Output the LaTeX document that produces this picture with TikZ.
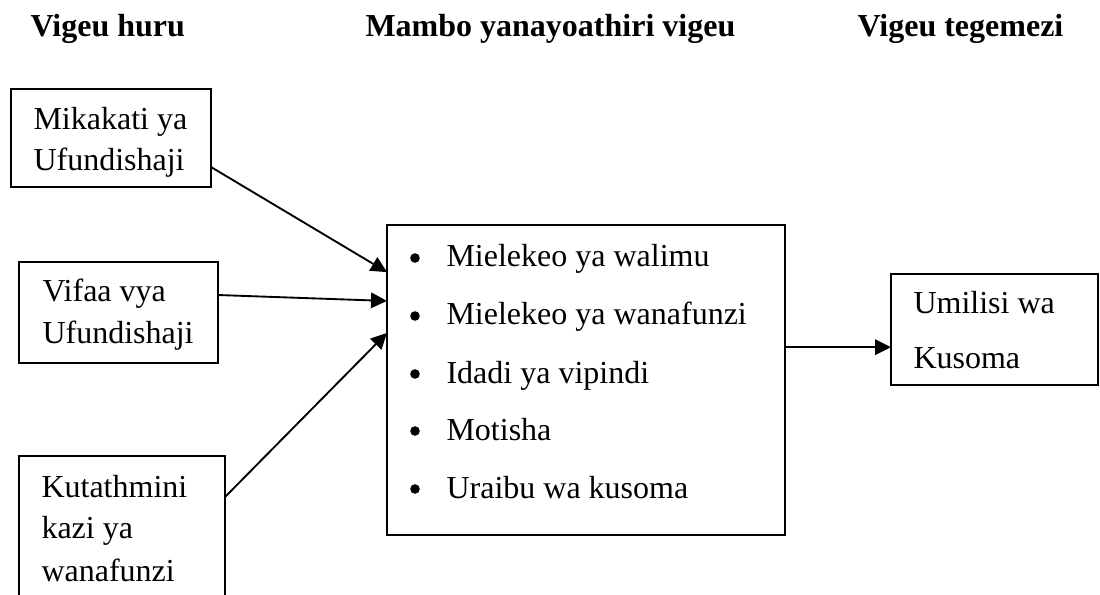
\documentclass[tikz,border=0pt]{standalone}
\usepackage{fontspec}
\setmainfont{Liberation Serif}
\usetikzlibrary{arrows.meta,calc}
\begin{document}
\begin{tikzpicture}[x=0.375pt,y=-0.375pt,
  every node/.style={font=\fontsize{12pt}{14pt}\selectfont},
  box/.style={draw,line width=0.7pt,rectangle,inner sep=0pt,outer sep=0pt},
  txt/.style={anchor=base west,inner sep=0pt},
  bulletdot/.style={circle,fill=black,inner sep=0pt,minimum size=3.6pt},
  hdr/.style={anchor=base west,inner sep=0pt,font=\fontsize{12pt}{14pt}\selectfont\bfseries},
  arr/.style={line width=0.7pt,-{Triangle[length=6pt,width=5.8pt]}}]
\useasboundingbox (0,0) rectangle (1100,595);
\clip (0,0) rectangle (1100,595);
% headers
\node[hdr] (h1) at (30,37) {Vigeu huru};
\node[hdr] (h2) at (365,37) {Mambo yanayoathiri vigeu};
\node[hdr] (h3) at (857,37) {Vigeu tegemezi};
% boxes
\node[box,minimum width=75pt,minimum height=36.75pt] (b1) at (111,138) {};
\node[box,minimum width=74.6pt,minimum height=37.9pt] (b2) at (118.5,312.5) {};
\node[box,minimum width=77.25pt,minimum height=69pt] (b3) at (122,548) {};
\node[box,minimum width=149.25pt,minimum height=116.25pt] (c) at (586,380) {};
\node[box,minimum width=77.6pt,minimum height=41.6pt] (r) at (994.5,329.5) {};
% box texts
\node[txt] (t1a) at (33,130) {Mikakati ya};
\node[txt] (t1b) at (33,171) {Ufundishaji};
\node[txt] (t2a) at (42,302) {Vifaa vya};
\node[txt] (t2b) at (42,343) {Ufundishaji};
\node[txt] (t3a) at (41,497) {Kutathmini};
\node[txt] (t3b) at (41,538) {kazi ya};
\node[txt] (t3c) at (41,581) {wanafunzi};
\foreach \y/\t [count=\i] in {267/Mielekeo ya walimu,325/Mielekeo ya wanafunzi,383/Idadi ya vipindi,440/Motisha,498/Uraibu wa kusoma}{
  \node[bulletdot] (bul\i) at (415,\y-9) {};
  \node[txt] (it\i) at (446,\y) {\t};
}
\node[txt] (ra) at (913,313) {Umilisi wa};
\node[txt] (rb) at (913,368) {Kusoma};
% connectors
\draw[arr] ($(b1.south east)!0.204!(b1.north east)$) -- ($(c.north west)!0.152!(c.south west)$);
\draw[arr] ($(b2.north east)!0.327!(b2.south east)$) -- ($(c.north west)!0.245!(c.south west)$);
\draw[arr] ($(b3.north east)!0.223!(b3.south east)$) -- ($(c.north west)!0.348!(c.south west)$);
\coordinate (cs) at ($(c.north east)!0.394!(c.south east)$);
\draw[arr] (cs) -- (cs -| r.west);
\end{tikzpicture}
\end{document}
